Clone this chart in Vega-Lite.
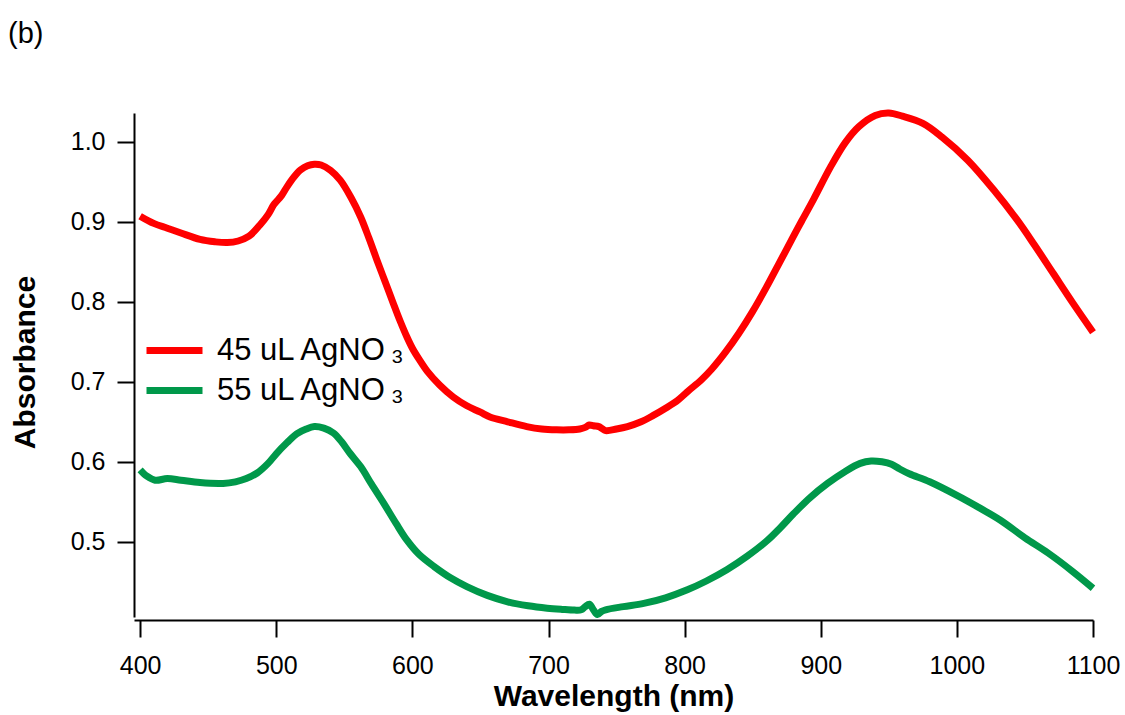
{
  "$schema": "https://vega.github.io/schema/vega-lite/v6.json",
  "width": 959,
  "height": 504,
  "autosize": "none",
  "padding": {"left": 134, "top": 113, "right": 32, "bottom": 98},
  "background": "white",
  "title": {"text": "(b)", "anchor": "start", "frame": "group", "orient": "top", "fontSize": 29, "font": "Liberation Sans", "fontWeight": "normal", "color": "black", "baseline": "alphabetic", "offset": 37, "dx": -126},
  "config": {"view": {"stroke": null}, "font": "Liberation Sans"},
  "datasets": {
    "spectra": [
      {"sample": "45 uL AgNO\u2009₃", "wavelength": 400, "absorbance": 0.907},
      {"sample": "45 uL AgNO\u2009₃", "wavelength": 410, "absorbance": 0.898},
      {"sample": "45 uL AgNO\u2009₃", "wavelength": 420, "absorbance": 0.892},
      {"sample": "45 uL AgNO\u2009₃", "wavelength": 430, "absorbance": 0.886},
      {"sample": "45 uL AgNO\u2009₃", "wavelength": 444, "absorbance": 0.878},
      {"sample": "45 uL AgNO\u2009₃", "wavelength": 455, "absorbance": 0.875},
      {"sample": "45 uL AgNO\u2009₃", "wavelength": 464, "absorbance": 0.874},
      {"sample": "45 uL AgNO\u2009₃", "wavelength": 472, "absorbance": 0.876},
      {"sample": "45 uL AgNO\u2009₃", "wavelength": 480, "absorbance": 0.882},
      {"sample": "45 uL AgNO\u2009₃", "wavelength": 488, "absorbance": 0.896},
      {"sample": "45 uL AgNO\u2009₃", "wavelength": 494, "absorbance": 0.909},
      {"sample": "45 uL AgNO\u2009₃", "wavelength": 498, "absorbance": 0.921},
      {"sample": "45 uL AgNO\u2009₃", "wavelength": 500, "absorbance": 0.925},
      {"sample": "45 uL AgNO\u2009₃", "wavelength": 504, "absorbance": 0.933},
      {"sample": "45 uL AgNO\u2009₃", "wavelength": 508, "absorbance": 0.944},
      {"sample": "45 uL AgNO\u2009₃", "wavelength": 513, "absorbance": 0.956},
      {"sample": "45 uL AgNO\u2009₃", "wavelength": 518, "absorbance": 0.965},
      {"sample": "45 uL AgNO\u2009₃", "wavelength": 523, "absorbance": 0.970},
      {"sample": "45 uL AgNO\u2009₃", "wavelength": 528, "absorbance": 0.972},
      {"sample": "45 uL AgNO\u2009₃", "wavelength": 533, "absorbance": 0.971},
      {"sample": "45 uL AgNO\u2009₃", "wavelength": 540, "absorbance": 0.964},
      {"sample": "45 uL AgNO\u2009₃", "wavelength": 547, "absorbance": 0.952},
      {"sample": "45 uL AgNO\u2009₃", "wavelength": 555, "absorbance": 0.930},
      {"sample": "45 uL AgNO\u2009₃", "wavelength": 562, "absorbance": 0.906},
      {"sample": "45 uL AgNO\u2009₃", "wavelength": 568, "absorbance": 0.880},
      {"sample": "45 uL AgNO\u2009₃", "wavelength": 574, "absorbance": 0.852},
      {"sample": "45 uL AgNO\u2009₃", "wavelength": 580, "absorbance": 0.825},
      {"sample": "45 uL AgNO\u2009₃", "wavelength": 586, "absorbance": 0.798},
      {"sample": "45 uL AgNO\u2009₃", "wavelength": 591, "absorbance": 0.776},
      {"sample": "45 uL AgNO\u2009₃", "wavelength": 596, "absorbance": 0.756},
      {"sample": "45 uL AgNO\u2009₃", "wavelength": 600, "absorbance": 0.742},
      {"sample": "45 uL AgNO\u2009₃", "wavelength": 605, "absorbance": 0.728},
      {"sample": "45 uL AgNO\u2009₃", "wavelength": 611, "absorbance": 0.713},
      {"sample": "45 uL AgNO\u2009₃", "wavelength": 620, "absorbance": 0.696},
      {"sample": "45 uL AgNO\u2009₃", "wavelength": 630, "absorbance": 0.681},
      {"sample": "45 uL AgNO\u2009₃", "wavelength": 640, "absorbance": 0.670},
      {"sample": "45 uL AgNO\u2009₃", "wavelength": 650, "absorbance": 0.662},
      {"sample": "45 uL AgNO\u2009₃", "wavelength": 657, "absorbance": 0.656},
      {"sample": "45 uL AgNO\u2009₃", "wavelength": 670, "absorbance": 0.650},
      {"sample": "45 uL AgNO\u2009₃", "wavelength": 684, "absorbance": 0.644},
      {"sample": "45 uL AgNO\u2009₃", "wavelength": 695, "absorbance": 0.641},
      {"sample": "45 uL AgNO\u2009₃", "wavelength": 706, "absorbance": 0.640},
      {"sample": "45 uL AgNO\u2009₃", "wavelength": 715, "absorbance": 0.640},
      {"sample": "45 uL AgNO\u2009₃", "wavelength": 723, "absorbance": 0.641},
      {"sample": "45 uL AgNO\u2009₃", "wavelength": 727, "absorbance": 0.643},
      {"sample": "45 uL AgNO\u2009₃", "wavelength": 730, "absorbance": 0.646},
      {"sample": "45 uL AgNO\u2009₃", "wavelength": 733, "absorbance": 0.645},
      {"sample": "45 uL AgNO\u2009₃", "wavelength": 737, "absorbance": 0.644},
      {"sample": "45 uL AgNO\u2009₃", "wavelength": 739, "absorbance": 0.642},
      {"sample": "45 uL AgNO\u2009₃", "wavelength": 742, "absorbance": 0.639},
      {"sample": "45 uL AgNO\u2009₃", "wavelength": 750, "absorbance": 0.641},
      {"sample": "45 uL AgNO\u2009₃", "wavelength": 758, "absorbance": 0.644},
      {"sample": "45 uL AgNO\u2009₃", "wavelength": 768, "absorbance": 0.650},
      {"sample": "45 uL AgNO\u2009₃", "wavelength": 777, "absorbance": 0.658},
      {"sample": "45 uL AgNO\u2009₃", "wavelength": 786, "absorbance": 0.667},
      {"sample": "45 uL AgNO\u2009₃", "wavelength": 795, "absorbance": 0.677},
      {"sample": "45 uL AgNO\u2009₃", "wavelength": 803, "absorbance": 0.689},
      {"sample": "45 uL AgNO\u2009₃", "wavelength": 812, "absorbance": 0.702},
      {"sample": "45 uL AgNO\u2009₃", "wavelength": 820, "absorbance": 0.716},
      {"sample": "45 uL AgNO\u2009₃", "wavelength": 830, "absorbance": 0.737},
      {"sample": "45 uL AgNO\u2009₃", "wavelength": 840, "absorbance": 0.761},
      {"sample": "45 uL AgNO\u2009₃", "wavelength": 850, "absorbance": 0.788},
      {"sample": "45 uL AgNO\u2009₃", "wavelength": 860, "absorbance": 0.818},
      {"sample": "45 uL AgNO\u2009₃", "wavelength": 870, "absorbance": 0.850},
      {"sample": "45 uL AgNO\u2009₃", "wavelength": 880, "absorbance": 0.882},
      {"sample": "45 uL AgNO\u2009₃", "wavelength": 886, "absorbance": 0.901},
      {"sample": "45 uL AgNO\u2009₃", "wavelength": 895, "absorbance": 0.929},
      {"sample": "45 uL AgNO\u2009₃", "wavelength": 907, "absorbance": 0.968},
      {"sample": "45 uL AgNO\u2009₃", "wavelength": 918, "absorbance": 0.999},
      {"sample": "45 uL AgNO\u2009₃", "wavelength": 928, "absorbance": 1.019},
      {"sample": "45 uL AgNO\u2009₃", "wavelength": 940, "absorbance": 1.033},
      {"sample": "45 uL AgNO\u2009₃", "wavelength": 950, "absorbance": 1.036},
      {"sample": "45 uL AgNO\u2009₃", "wavelength": 960, "absorbance": 1.032},
      {"sample": "45 uL AgNO\u2009₃", "wavelength": 975, "absorbance": 1.023},
      {"sample": "45 uL AgNO\u2009₃", "wavelength": 989, "absorbance": 1.006},
      {"sample": "45 uL AgNO\u2009₃", "wavelength": 1008, "absorbance": 0.977},
      {"sample": "45 uL AgNO\u2009₃", "wavelength": 1027, "absorbance": 0.940},
      {"sample": "45 uL AgNO\u2009₃", "wavelength": 1044, "absorbance": 0.903},
      {"sample": "45 uL AgNO\u2009₃", "wavelength": 1057, "absorbance": 0.871},
      {"sample": "45 uL AgNO\u2009₃", "wavelength": 1071, "absorbance": 0.835},
      {"sample": "45 uL AgNO\u2009₃", "wavelength": 1085, "absorbance": 0.799},
      {"sample": "45 uL AgNO\u2009₃", "wavelength": 1100, "absorbance": 0.762},
      {"sample": "55 uL AgNO\u2009₃", "wavelength": 400, "absorbance": 0.590},
      {"sample": "55 uL AgNO\u2009₃", "wavelength": 405, "absorbance": 0.582},
      {"sample": "55 uL AgNO\u2009₃", "wavelength": 411, "absorbance": 0.577},
      {"sample": "55 uL AgNO\u2009₃", "wavelength": 420, "absorbance": 0.579},
      {"sample": "55 uL AgNO\u2009₃", "wavelength": 430, "absorbance": 0.577},
      {"sample": "55 uL AgNO\u2009₃", "wavelength": 444, "absorbance": 0.574},
      {"sample": "55 uL AgNO\u2009₃", "wavelength": 461, "absorbance": 0.573},
      {"sample": "55 uL AgNO\u2009₃", "wavelength": 470, "absorbance": 0.575},
      {"sample": "55 uL AgNO\u2009₃", "wavelength": 478, "absorbance": 0.579},
      {"sample": "55 uL AgNO\u2009₃", "wavelength": 486, "absorbance": 0.586},
      {"sample": "55 uL AgNO\u2009₃", "wavelength": 494, "absorbance": 0.598},
      {"sample": "55 uL AgNO\u2009₃", "wavelength": 500, "absorbance": 0.610},
      {"sample": "55 uL AgNO\u2009₃", "wavelength": 508, "absorbance": 0.624},
      {"sample": "55 uL AgNO\u2009₃", "wavelength": 515, "absorbance": 0.635},
      {"sample": "55 uL AgNO\u2009₃", "wavelength": 522, "absorbance": 0.641},
      {"sample": "55 uL AgNO\u2009₃", "wavelength": 528, "absorbance": 0.644},
      {"sample": "55 uL AgNO\u2009₃", "wavelength": 535, "absorbance": 0.642},
      {"sample": "55 uL AgNO\u2009₃", "wavelength": 542, "absorbance": 0.636},
      {"sample": "55 uL AgNO\u2009₃", "wavelength": 548, "absorbance": 0.625},
      {"sample": "55 uL AgNO\u2009₃", "wavelength": 554, "absorbance": 0.611},
      {"sample": "55 uL AgNO\u2009₃", "wavelength": 562, "absorbance": 0.594},
      {"sample": "55 uL AgNO\u2009₃", "wavelength": 570, "absorbance": 0.572},
      {"sample": "55 uL AgNO\u2009₃", "wavelength": 579, "absorbance": 0.548},
      {"sample": "55 uL AgNO\u2009₃", "wavelength": 588, "absorbance": 0.523},
      {"sample": "55 uL AgNO\u2009₃", "wavelength": 596, "absorbance": 0.502},
      {"sample": "55 uL AgNO\u2009₃", "wavelength": 605, "absorbance": 0.484},
      {"sample": "55 uL AgNO\u2009₃", "wavelength": 616, "absorbance": 0.469},
      {"sample": "55 uL AgNO\u2009₃", "wavelength": 628, "absorbance": 0.455},
      {"sample": "55 uL AgNO\u2009₃", "wavelength": 640, "absorbance": 0.444},
      {"sample": "55 uL AgNO\u2009₃", "wavelength": 655, "absorbance": 0.433},
      {"sample": "55 uL AgNO\u2009₃", "wavelength": 670, "absorbance": 0.425},
      {"sample": "55 uL AgNO\u2009₃", "wavelength": 685, "absorbance": 0.420},
      {"sample": "55 uL AgNO\u2009₃", "wavelength": 699, "absorbance": 0.417},
      {"sample": "55 uL AgNO\u2009₃", "wavelength": 710, "absorbance": 0.4155},
      {"sample": "55 uL AgNO\u2009₃", "wavelength": 719, "absorbance": 0.4146},
      {"sample": "55 uL AgNO\u2009₃", "wavelength": 724, "absorbance": 0.415},
      {"sample": "55 uL AgNO\u2009₃", "wavelength": 727, "absorbance": 0.419},
      {"sample": "55 uL AgNO\u2009₃", "wavelength": 730, "absorbance": 0.422},
      {"sample": "55 uL AgNO\u2009₃", "wavelength": 733, "absorbance": 0.415},
      {"sample": "55 uL AgNO\u2009₃", "wavelength": 736, "absorbance": 0.409},
      {"sample": "55 uL AgNO\u2009₃", "wavelength": 739, "absorbance": 0.413},
      {"sample": "55 uL AgNO\u2009₃", "wavelength": 742, "absorbance": 0.415},
      {"sample": "55 uL AgNO\u2009₃", "wavelength": 755, "absorbance": 0.419},
      {"sample": "55 uL AgNO\u2009₃", "wavelength": 770, "absorbance": 0.423},
      {"sample": "55 uL AgNO\u2009₃", "wavelength": 786, "absorbance": 0.430},
      {"sample": "55 uL AgNO\u2009₃", "wavelength": 802, "absorbance": 0.440},
      {"sample": "55 uL AgNO\u2009₃", "wavelength": 816, "absorbance": 0.451},
      {"sample": "55 uL AgNO\u2009₃", "wavelength": 831, "absorbance": 0.465},
      {"sample": "55 uL AgNO\u2009₃", "wavelength": 846, "absorbance": 0.482},
      {"sample": "55 uL AgNO\u2009₃", "wavelength": 861, "absorbance": 0.502},
      {"sample": "55 uL AgNO\u2009₃", "wavelength": 870, "absorbance": 0.517},
      {"sample": "55 uL AgNO\u2009₃", "wavelength": 880, "absorbance": 0.535},
      {"sample": "55 uL AgNO\u2009₃", "wavelength": 892, "absorbance": 0.555},
      {"sample": "55 uL AgNO\u2009₃", "wavelength": 905, "absorbance": 0.573},
      {"sample": "55 uL AgNO\u2009₃", "wavelength": 918, "absorbance": 0.588},
      {"sample": "55 uL AgNO\u2009₃", "wavelength": 929, "absorbance": 0.598},
      {"sample": "55 uL AgNO\u2009₃", "wavelength": 937, "absorbance": 0.601},
      {"sample": "55 uL AgNO\u2009₃", "wavelength": 945, "absorbance": 0.600},
      {"sample": "55 uL AgNO\u2009₃", "wavelength": 952, "absorbance": 0.597},
      {"sample": "55 uL AgNO\u2009₃", "wavelength": 958, "absorbance": 0.591},
      {"sample": "55 uL AgNO\u2009₃", "wavelength": 965, "absorbance": 0.585},
      {"sample": "55 uL AgNO\u2009₃", "wavelength": 980, "absorbance": 0.575},
      {"sample": "55 uL AgNO\u2009₃", "wavelength": 1000, "absorbance": 0.558},
      {"sample": "55 uL AgNO\u2009₃", "wavelength": 1016, "absorbance": 0.543},
      {"sample": "55 uL AgNO\u2009₃", "wavelength": 1032, "absorbance": 0.527},
      {"sample": "55 uL AgNO\u2009₃", "wavelength": 1050, "absorbance": 0.505},
      {"sample": "55 uL AgNO\u2009₃", "wavelength": 1067, "absorbance": 0.486},
      {"sample": "55 uL AgNO\u2009₃", "wavelength": 1085, "absorbance": 0.463},
      {"sample": "55 uL AgNO\u2009₃", "wavelength": 1100, "absorbance": 0.442}
    ]
  },
  "data": {"name": "spectra"},
  "mark": {"type": "line", "strokeWidth": 7, "interpolate": "catmull-rom", "strokeCap": "butt", "strokeJoin": "round"},
  "encoding": {
    "x": {
      "field": "wavelength",
      "type": "quantitative",
      "scale": {"domain": [395.5, 1100], "nice": false, "zero": false},
      "axis": {
        "values": [400, 500, 600, 700, 800, 900, 1000, 1100],
        "format": "d",
        "title": "Wavelength (nm)",
        "grid": false,
        "offset": 3,
        "domainColor": "black", "domainWidth": 2,
        "tickColor": "black", "tickWidth": 2, "tickSize": 17,
        "labelFont": "Liberation Sans", "labelFontSize": 25, "labelColor": "black", "labelPadding": 16, "labelFlush": false, "labelOverlap": false,
        "titleFont": "Liberation Sans", "titleFontSize": 30, "titleFontWeight": "bold", "titleColor": "black",
        "titleY": 85, "titleBaseline": "alphabetic"
      }
    },
    "y": {
      "field": "absorbance",
      "type": "quantitative",
      "scale": {"domain": [0.406, 1.036], "nice": false, "zero": false},
      "axis": {
        "values": [0.5, 0.6, 0.7, 0.8, 0.9, 1.0],
        "format": ".1f",
        "title": "Absorbance",
        "grid": false,
        "domainColor": "black", "domainWidth": 2,
        "tickColor": "black", "tickWidth": 2, "tickSize": 17,
        "labelFont": "Liberation Sans", "labelFontSize": 25, "labelColor": "black", "labelPadding": 12, "labelFlush": false, "labelOverlap": false,
        "titleFont": "Liberation Sans", "titleFontSize": 30, "titleFontWeight": "bold", "titleColor": "black",
        "titleAngle": -90, "titleX": -100, "titleY": 249, "titleAlign": "center", "titleBaseline": "alphabetic"
      }
    },
    "color": {
      "field": "sample",
      "type": "nominal",
      "scale": {"domain": ["45 uL AgNO\u2009₃", "55 uL AgNO\u2009₃"], "range": ["#ff0000", "#00984a"]},
      "legend": {
        "title": null,
        "orient": "none",
        "legendX": 9,
        "legendY": 220,
        "padding": 0,
        "symbolType": "M-1,0H3",
        "symbolSize": 784,
        "symbolStrokeWidth": 7,
        "labelOffset": 39,
        "labelFont": "Liberation Sans",
        "labelFontSize": 31,
        "labelColor": "black",
        "labelLimit": 500,
        "rowPadding": 7
      }
    }
  }
}
